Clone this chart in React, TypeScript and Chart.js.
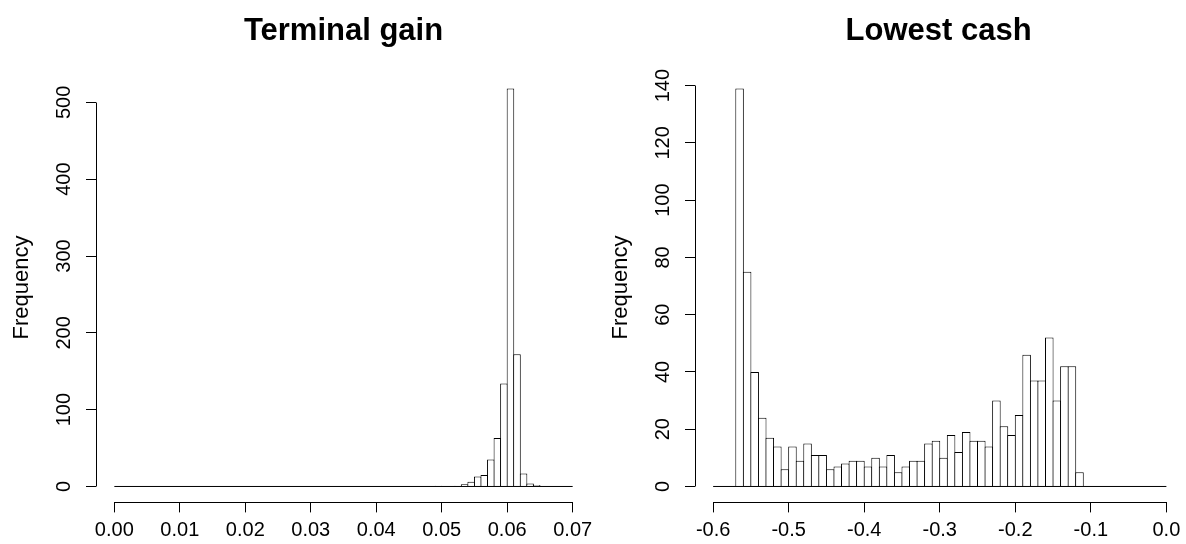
import React, { useEffect, useRef } from 'react';
import { Chart, registerables } from 'chart.js';

Chart.register(...registerables);

// ---------- data ----------
// Terminal gain histogram: 70 bins of width 0.001 starting at 0.00
const gainBinStart = 0;
const gainBinWidth = 0.001;
const gainCounts = [
  0, 0, 0, 0, 0, 0, 0, 0, 0, 0,
  0, 0, 0, 0, 0, 0, 0, 0, 0, 0,
  0, 0, 0, 0, 0, 0, 0, 0, 0, 0,
  0, 0, 0, 0, 0, 0, 0, 0, 0, 0,
  0, 0, 0, 0, 0, 0, 0, 0, 0, 1,
  0, 0, 1, 3, 6, 13, 15, 35, 63, 134,
  518, 172, 17, 4, 2, 0, 0, 0, 0, 0,
];
const gainXLabels = ['0.00', '0.01', '0.02', '0.03', '0.04', '0.05', '0.06', '0.07'];

// Lowest cash histogram: 60 bins of width 0.01 starting at -0.60
const cashBinStart = -0.6;
const cashBinWidth = 0.01;
const cashCounts = [
  0, 0, 0, 139, 75, 40, 24, 17, 14, 6,
  14, 9, 15, 11, 11, 6, 7, 8, 9, 9,
  7, 10, 7, 11, 5, 7, 9, 9, 15, 16,
  10, 18, 12, 19, 16, 16, 14, 30, 21, 18,
  25, 46, 37, 37, 52, 30, 42, 42, 5, 0,
  0, 0, 0, 0, 0, 0, 0, 0, 0, 0,
];
const cashXLabels = ['-0.6', '-0.5', '-0.4', '-0.3', '-0.2', '-0.1', '0.0'];

const FONT = "'Liberation Sans', Arial, Helvetica, sans-serif";

const axisLines = {
  id: 'axisLines',
  afterDraw(chart: any) {
    const { ctx, chartArea, scales } = chart;
    const align = (p: number) => Math.round(p - 0.5) + 0.5;
    ctx.save();
    ctx.strokeStyle = '#000';
    ctx.lineWidth = 1;
    const xs = scales.x;
    const ys = scales.y;
    const xt = xs.ticks;
    const yt = ys.ticks;
    ctx.beginPath();
    const yb = align(chartArea.bottom);
    ctx.moveTo(align(xs.getPixelForValue(xt[0].value)), yb);
    ctx.lineTo(align(xs.getPixelForValue(xt[xt.length - 1].value)), yb);
    const xl = align(chartArea.left);
    ctx.moveTo(xl, align(ys.getPixelForValue(yt[0].value)));
    ctx.lineTo(xl, align(ys.getPixelForValue(yt[yt.length - 1].value)));
    ctx.stroke();
    ctx.restore();
  },
};

type HistProps = {
  title: string;
  counts: number[];
  binStart: number;
  binWidth: number;
  xMin: number;
  xMax: number;
  xStep: number;
  xLabels: string[];
  yStep: number;
  width: number;
  padRight: number;
  barPct: number;
};

function Histogram(p: HistProps) {
  const ref = useRef<HTMLCanvasElement>(null);
  useEffect(() => {
    const maxCount = Math.max(...p.counts);
    const yMin = -0.04 * maxCount;
    const yMax = 1.04 * maxCount;
    const bars = p.counts.map((c, i) => ({ x: p.binStart + (i + 0.5) * p.binWidth, y: c }));
    const end = p.binStart + p.counts.length * p.binWidth;
    const gridOpts = {
      display: true,
      drawOnChartArea: false,
      drawTicks: true,
      tickLength: 10,
      color: '#000',
      lineWidth: 1,
      offset: false,
    };
    const chart = new Chart(ref.current as HTMLCanvasElement, {
      type: 'bar',
      data: {
        datasets: [
          {
            type: 'line',
            data: [
              { x: p.binStart, y: 0 },
              { x: end, y: 0 },
            ],
            borderColor: '#000',
            borderWidth: 1,
            pointRadius: 0,
            order: 0,
          } as any,
          {
            type: 'bar',
            data: bars,
            backgroundColor: '#fff',
            borderColor: '#000',
            borderWidth: 1,
            borderSkipped: 'start',
            barPercentage: p.barPct,
            categoryPercentage: 1,
            grouped: false,
            order: 1,
          } as any,
        ],
      },
      options: {
        responsive: false,
        animation: false,
        devicePixelRatio: 1,
        events: [],
        layout: { padding: { left: 0, right: p.padRight, top: 0, bottom: 0 } },
        plugins: {
          legend: { display: false },
          tooltip: { enabled: false },
          title: {
            display: true,
            text: p.title,
            fullSize: false,
            color: '#000',
            font: { family: FONT, size: 31, weight: 'bold', lineHeight: 1.2 },
            padding: { top: 12.4, bottom: 23 },
          },
        },
        scales: {
          x: {
            type: 'linear',
            min: p.xMin,
            max: p.xMax,
            offset: false,
            grid: gridOpts,
            border: { display: false },
            ticks: {
              stepSize: p.xStep,
              includeBounds: false,
              autoSkip: false,
              minRotation: 0,
              maxRotation: 0,
              padding: 5.6,
              color: '#000',
              font: { family: FONT, size: 20 },
              callback: (_v: any, i: number) => p.xLabels[i],
            },
            afterFit: (s: any) => {
              s.height = 41.6;
            },
          },
          y: {
            type: 'linear',
            min: yMin,
            max: yMax,
            grid: gridOpts,
            border: { display: false },
            ticks: {
              stepSize: p.yStep,
              includeBounds: false,
              autoSkip: false,
              minRotation: 90,
              maxRotation: 90,
              crossAlign: 'center',
              padding: 4.8,
              color: '#000',
              font: { family: FONT, size: 20 },
            },
            title: {
              display: true,
              text: 'Frequency',
              color: '#000',
              font: { family: FONT, size: 22 },
              padding: { top: 8.5, bottom: 0 },
            },
            afterFit: (s: any) => {
              s.width = 96;
            },
          },
        },
      } as any,
      plugins: [axisLines],
    });
    return () => chart.destroy();
  }, []);
  return <canvas ref={ref} width={p.width} height={544} style={{ display: 'block' }} />;
}

export default function App() {
  return (
    <div
      style={{
        position: 'absolute',
        left: 0,
        top: 0,
        width: 1186,
        height: 544,
        overflow: 'hidden',
        background: '#fff',
        display: 'flex',
      }}
    >
      <Histogram
        title="Terminal gain"
        counts={gainCounts}
        binStart={gainBinStart}
        binWidth={gainBinWidth}
        xMin={-0.0028}
        xMax={0.0728}
        xStep={0.01}
        xLabels={gainXLabels}
        yStep={100}
        width={599}
        padRight={8}
        barPct={1.153}
      />
      <Histogram
        title="Lowest cash"
        counts={cashCounts}
        binStart={cashBinStart}
        binWidth={cashBinWidth}
        xMin={-0.624}
        xMax={0.021}
        xStep={0.1}
        xLabels={cashXLabels}
        yStep={20}
        width={587}
        padRight={0}
        barPct={1.131}
      />
    </div>
  );
}
